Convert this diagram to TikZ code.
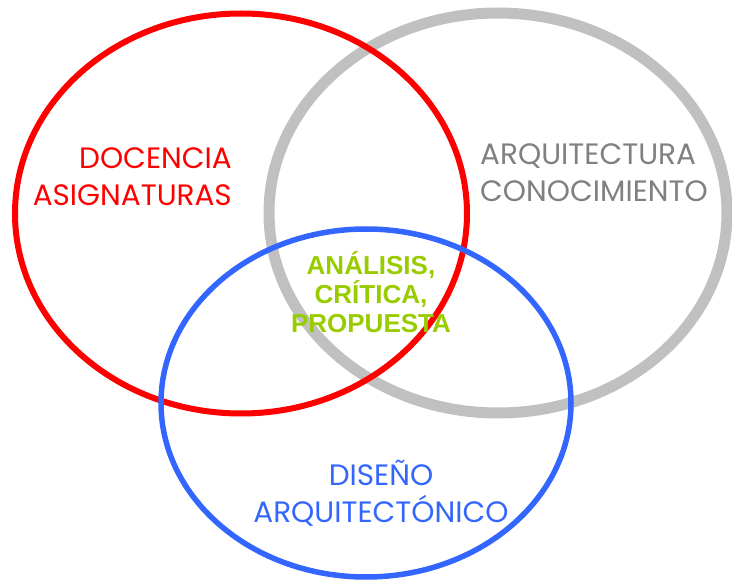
\documentclass[tikz,border=0pt]{standalone}
\usepackage{fontspec}
\setmainfont{Poppins}
\newfontfamily\boldsans{Liberation Sans}
\definecolor{setred}{HTML}{FF0000}
\definecolor{setgray}{HTML}{C0C0C0}
\definecolor{textgray}{HTML}{808080}
\definecolor{setblue}{HTML}{3366FF}
\definecolor{setgreen}{HTML}{99CC00}
\begin{document}
\begin{tikzpicture}[x=1pt,y=-1pt,
  setlabel/.style={inner sep=0pt,font=\fontsize{29.5}{37}\selectfont}]
  \useasboundingbox (0,0) rectangle (732,580);
  % the three sets
  \draw[setgray,line width=11pt] (498,213) ellipse [x radius=229pt,y radius=200pt];
  \draw[setred,line width=6pt] (241,213.5) ellipse [x radius=226pt,y radius=200pt];
  \draw[setblue,line width=5.5pt] (366,403) ellipse [x radius=205pt,y radius=174pt];
  % labels
  \node[setlabel,text=setred,align=right,anchor=base east] (docencia) at (232,206) {DOCENCIA\\ASIGNATURAS};
  \node[setlabel,text=textgray,align=left,anchor=base west] (arquitectura) at (480,202) {ARQUITECTURA\\CONOCIMIENTO};
  \node[setlabel,text=setblue,align=center,anchor=base] (diseno) at (381,522) {DISEÑO\\ARQUITECTÓNICO};
  \node[inner sep=0pt,text=setgreen,align=center,anchor=base,
    font=\boldsans\bfseries\fontsize{26}{29}\selectfont] (analisis) at (371,333) {ANÁLISIS,\\CRÍTICA,\\PROPUESTA};
\end{tikzpicture}
\end{document}
